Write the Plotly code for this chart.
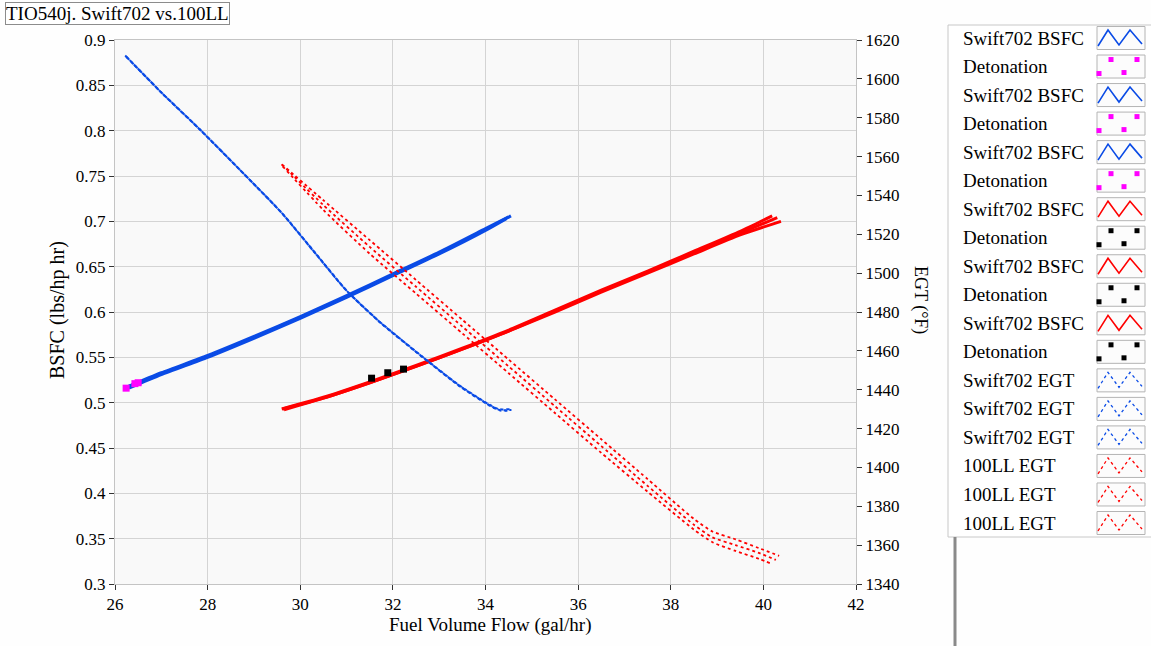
import plotly.graph_objects as go

# ---------------- data ----------------
# Swift702 BSFC (blue, left axis) - three overlapping runs
swift_bsfc_fuel_a = [26.20, 27.0, 28.0, 29.0, 30.0, 31.0, 32.0, 33.0, 34.0, 34.55]
swift_bsfc_a = [0.516, 0.532, 0.551, 0.572, 0.594, 0.617, 0.641, 0.665, 0.691, 0.706]
swift_bsfc_fuel_b = [26.25, 27.0, 28.0, 29.0, 30.0, 31.0, 32.0, 33.0, 34.0, 34.50]
swift_bsfc_b = [0.517, 0.533, 0.552, 0.573, 0.595, 0.618, 0.642, 0.666, 0.692, 0.705]
swift_bsfc_fuel_c = [26.30, 27.0, 28.0, 29.0, 30.0, 31.0, 32.0, 33.0, 34.0, 34.45]
swift_bsfc_c = [0.516, 0.531, 0.550, 0.571, 0.593, 0.616, 0.640, 0.664, 0.690, 0.703]

# 100LL BSFC (red, left axis) - three overlapping runs
ll_bsfc_fuel_a = [29.60, 30.5, 31.5, 32.5, 33.5, 34.5, 35.5, 36.5, 37.5, 38.5, 39.5, 40.19]
ll_bsfc_a = [0.493, 0.506, 0.523, 0.541, 0.560, 0.580, 0.602, 0.624, 0.645, 0.667, 0.689, 0.706]
ll_bsfc_fuel_b = [29.62, 30.5, 31.5, 32.5, 33.5, 34.5, 35.5, 36.5, 37.5, 38.5, 39.5, 40.30]
ll_bsfc_b = [0.493, 0.505, 0.522, 0.540, 0.559, 0.579, 0.601, 0.623, 0.644, 0.666, 0.687, 0.704]
ll_bsfc_fuel_c = [29.65, 30.5, 31.5, 32.5, 33.5, 34.5, 35.5, 36.5, 37.5, 38.5, 39.5, 40.38]
ll_bsfc_c = [0.492, 0.505, 0.522, 0.540, 0.559, 0.579, 0.600, 0.622, 0.643, 0.664, 0.685, 0.700]

# Detonation points
det_swift_fuel = [26.24, 26.43, 26.50]
det_swift_bsfc = [0.516, 0.521, 0.522]
det_ll_fuel = [31.54, 31.89, 32.23]
det_ll_bsfc = [0.527, 0.533, 0.537]

# Swift702 EGT (blue dotted, right axis)
swift_egt_fuel_a = [26.22, 27.0, 27.83, 28.91, 29.6, 30.3, 31.0, 31.71, 32.58, 33.44, 34.09, 34.30, 34.56]
swift_egt_a = [1612, 1593, 1574, 1548, 1531, 1511, 1491, 1475, 1458, 1442, 1432, 1429.6, 1429.6]
swift_egt_fuel_b = [26.24, 27.02, 27.85, 28.93, 29.62, 30.32, 31.02, 31.73, 32.60, 33.46, 34.11, 34.32, 34.54]
swift_egt_b = [1611.5, 1592.5, 1573.5, 1547.5, 1530.5, 1510.5, 1490.5, 1474.5, 1457.5, 1441.5, 1431.5, 1429.3, 1429.3]
swift_egt_fuel_c = [26.26, 26.98, 27.81, 28.89, 29.58, 30.28, 30.98, 31.69, 32.56, 33.42, 34.07, 34.28, 34.52]
swift_egt_c = [1611, 1593.5, 1574.5, 1548.5, 1531.5, 1511.5, 1491.5, 1475.5, 1458.5, 1442.5, 1432.5, 1430, 1430]

# 100LL EGT (red dotted, right axis)
ll_egt_fuel_a = [29.60, 30.5, 31.5, 32.5, 33.5, 34.5, 35.5, 36.5, 37.5, 38.5, 38.9, 39.4, 39.9, 40.34]
ll_egt_a = [1556, 1537.5, 1517, 1496.5, 1476, 1455.5, 1435, 1414.5, 1394, 1373.5, 1367, 1363, 1358.5, 1354.5]
ll_egt_fuel_b = [29.60, 30.5, 31.5, 32.5, 33.5, 34.5, 35.5, 36.5, 37.5, 38.5, 38.9, 39.4, 39.9, 40.27]
ll_egt_b = [1556, 1535, 1513.5, 1493, 1472.5, 1452, 1431.5, 1411, 1390.5, 1370.5, 1364, 1360, 1356, 1352.4]
ll_egt_fuel_c = [29.62, 30.5, 31.5, 32.5, 33.5, 34.5, 35.5, 36.5, 37.5, 38.5, 38.9, 39.4, 39.9, 40.19]
ll_egt_c = [1555, 1532.5, 1510, 1489.5, 1469, 1448.5, 1428, 1407.5, 1387.5, 1368, 1361.5, 1357, 1353, 1350.3]

x_ticks = [26, 28, 30, 32, 34, 36, 38, 40, 42]
bsfc_ticks = [0.3, 0.35, 0.4, 0.45, 0.5, 0.55, 0.6, 0.65, 0.7, 0.75, 0.8, 0.85, 0.9]
egt_ticks = list(range(1340, 1621, 20))

title_text = "TIO540j. Swift702 vs.100LL"
x_title = "Fuel Volume Flow (gal/hr)"
y_title = "BSFC (lbs/hp hr)"
y2_title = "EGT (°F)"

BLUE = "#0a4be6"
RED = "#ff0000"
MAGENTA = "#ff00ff"
BLACK = "#000000"

# series spec: (legend name, kind, color, x, y, axis)
series = [
    ("Swift702 BSFC", "line", BLUE, swift_bsfc_fuel_a, swift_bsfc_a, "y"),
    ("Detonation", "marker", MAGENTA, det_swift_fuel[0:1], det_swift_bsfc[0:1], "y"),
    ("Swift702 BSFC", "line", BLUE, swift_bsfc_fuel_b, swift_bsfc_b, "y"),
    ("Detonation", "marker", MAGENTA, det_swift_fuel[1:2], det_swift_bsfc[1:2], "y"),
    ("Swift702 BSFC", "line", BLUE, swift_bsfc_fuel_c, swift_bsfc_c, "y"),
    ("Detonation", "marker", MAGENTA, det_swift_fuel[2:3], det_swift_bsfc[2:3], "y"),
    ("Swift702 BSFC", "line", RED, ll_bsfc_fuel_a, ll_bsfc_a, "y"),
    ("Detonation", "marker", BLACK, det_ll_fuel[0:1], det_ll_bsfc[0:1], "y"),
    ("Swift702 BSFC", "line", RED, ll_bsfc_fuel_b, ll_bsfc_b, "y"),
    ("Detonation", "marker", BLACK, det_ll_fuel[1:2], det_ll_bsfc[1:2], "y"),
    ("Swift702 BSFC", "line", RED, ll_bsfc_fuel_c, ll_bsfc_c, "y"),
    ("Detonation", "marker", BLACK, det_ll_fuel[2:3], det_ll_bsfc[2:3], "y"),
    ("Swift702 EGT", "dot", BLUE, swift_egt_fuel_a, swift_egt_a, "y2"),
    ("Swift702 EGT", "dot", BLUE, swift_egt_fuel_b, swift_egt_b, "y2"),
    ("Swift702 EGT", "dot", BLUE, swift_egt_fuel_c, swift_egt_c, "y2"),
    ("100LL EGT", "dot", RED, ll_egt_fuel_a, ll_egt_a, "y2"),
    ("100LL EGT", "dot", RED, ll_egt_fuel_b, ll_egt_b, "y2"),
    ("100LL EGT", "dot", RED, ll_egt_fuel_c, ll_egt_c, "y2"),
]

# ---------------- layout geometry (pixels) ----------------
W, H = 1151, 646
PL, PR, PT, PB = 115, 856, 40, 584
LX0 = 940
SERIF = "Liberation Serif, Times New Roman, serif"

fig = go.Figure()

order = [i for i, s in enumerate(series) if s[1] == "dot"] + \
        [i for i, s in enumerate(series) if s[1] == "line"] + \
        [i for i, s in enumerate(series) if s[1] == "marker"]
for i in order:
    name, kind, color, xs, ys, ax = series[i]
    if kind == "line":
        fig.add_trace(go.Scatter(x=xs, y=ys, mode="lines", name=name, yaxis=ax, xaxis="x",
                                 line=dict(color=color, width=3, shape="spline", smoothing=0.6),
                                 showlegend=False, hoverinfo="skip"))
    elif kind == "dot":
        fig.add_trace(go.Scatter(x=xs, y=ys, mode="lines", name=name, yaxis=ax, xaxis="x",
                                 line=dict(color=color, width=2 if color == BLUE else 1.8, dash="dot",
                                           shape="spline", smoothing=0.6),
                                 showlegend=False, hoverinfo="skip"))
    else:
        fig.add_trace(go.Scatter(x=xs, y=ys, mode="markers", name=name, yaxis=ax, xaxis="x",
                                 marker=dict(color=color, size=7, symbol="square", line=dict(width=0)),
                                 showlegend=False, hoverinfo="skip"))

# ---------------- custom legend (text left, swatch right) ----------------
LEG_X0, LEG_Y0, LEG_Y1 = 948, 25, 537
ROW0, ROW_STEP = 38, 28.53
SW_X0, SW_X1 = 1097, 1142
shapes = []
annotations = []
# white backdrop for the legend column
shapes.append(dict(type="rect", xref="x3", yref="y3", x0=LX0 - 2, x1=W + 5, y0=-5, y1=H + 5,
                   line=dict(width=0), fillcolor="#fefefe", layer="below"))
shapes.append(dict(type="rect", xref="x3", yref="y3", x0=LEG_X0, x1=W + 5, y0=LEG_Y0, y1=LEG_Y1,
                   line=dict(color="#c8c8c8", width=1), fillcolor="#ffffff", layer="below"))
shapes.append(dict(type="line", xref="x3", yref="y3", x0=955, x1=955, y0=LEG_Y1, y1=H + 2,
                   line=dict(color="#8a8a8a", width=3), layer="below"))
for k, (name, kind, color, xs, ys, ax) in enumerate(series):
    c = ROW0 + k * ROW_STEP
    annotations.append(dict(xref="x3", yref="y3", x=961, y=c, text=name, showarrow=False,
                            xanchor="left", yanchor="middle",
                            font=dict(family=SERIF, size=19, color="#000000")))
    shapes.append(dict(type="rect", xref="x3", yref="y3", x0=SW_X0, x1=SW_X1 + 3, y0=c - 11.5, y1=c + 11.5,
                       line=dict(color="#b4b4b4", width=1), fillcolor="#fcfcfc", layer="below"))
    if kind in ("line", "dot"):
        zx = [SW_X0 + 1, SW_X0 + 11, SW_X0 + 22, SW_X0 + 33, SW_X1]
        zy = [c + 8, c - 8, c + 7, c - 8, c + 6]
        fig.add_trace(go.Scatter(x=zx, y=zy, xaxis="x3", yaxis="y3", mode="lines",
                                 line=dict(color=color, width=1.6 if kind == "line" else 1.3,
                                           dash="solid" if kind == "line" else "dot"),
                                 showlegend=False, hoverinfo="skip"))
    else:
        mx = [SW_X0 + 2, SW_X0 + 14, SW_X0 + 27, SW_X0 + 40]
        my = [c + 7, c - 7, c + 6, c - 7]
        fig.add_trace(go.Scatter(x=mx, y=my, xaxis="x3", yaxis="y3", mode="markers",
                                 marker=dict(color=color, size=5, symbol="square", line=dict(width=0)),
                                 showlegend=False, hoverinfo="skip"))

# ---------------- titles ----------------
annotations.append(dict(xref="paper", yref="paper", x=5 / W, y=1 - 2 / H, xanchor="left", yanchor="top",
                        text=title_text, showarrow=False, bgcolor="#ffffff", bordercolor="#8c8c8c",
                        borderwidth=1, borderpad=0,
                        font=dict(family=SERIF, size=19, color="#000000")))
annotations.append(dict(xref="paper", yref="paper", x=490 / W, y=1 - 625 / H, xanchor="center",
                        yanchor="middle", text=x_title, showarrow=False,
                        font=dict(family=SERIF, size=19, color="#000000")))
annotations.append(dict(xref="paper", yref="paper", x=57 / W, y=1 - 310 / H, xanchor="center",
                        yanchor="middle", text=y_title, showarrow=False, textangle=-90,
                        font=dict(family=SERIF, size=20, color="#000000")))
annotations.append(dict(xref="paper", yref="paper", x=921 / W, y=1 - 300 / H, xanchor="center",
                        yanchor="middle", text=y2_title, showarrow=False, textangle=90,
                        font=dict(family=SERIF, size=18, color="#000000")))

axis_common = dict(showgrid=True, gridcolor="#d4d4d4", gridwidth=1, zeroline=False,
                   ticks="outside", ticklen=5, tickcolor="#333333", tickwidth=1,
                   showline=True, linecolor="#c4c4c4", linewidth=1, automargin=False,
                   tickfont=dict(family=SERIF, size=17, color="#000000"))

fig.update_layout(
    width=W, height=H,
    margin=dict(l=0, r=0, t=0, b=0),
    paper_bgcolor="#fefefe",
    plot_bgcolor="#f9f9f9",
    showlegend=False,
    xaxis=dict(domain=[PL / W, PR / W], range=[26, 42], tickvals=x_ticks, anchor="y",
               mirror=True, **axis_common),
    yaxis=dict(domain=[1 - PB / H, 1 - PT / H], range=[0.3, 0.9], tickvals=bsfc_ticks,
               ticktext=[f"{v:g}" for v in bsfc_ticks], anchor="x", mirror=True, **axis_common),
    yaxis2=dict(overlaying="y", side="right", anchor="x", range=[1340, 1620], tickvals=egt_ticks,
                showgrid=False, zeroline=False, ticks="outside", ticklen=5, tickcolor="#333333",
                showline=False, automargin=False,
                tickfont=dict(family=SERIF, size=17, color="#000000")),
    xaxis3=dict(domain=[LX0 / W, 1], range=[LX0, W], visible=False, anchor="y3", fixedrange=True),
    yaxis3=dict(domain=[0, 1], range=[H, 0], visible=False, anchor="x3", fixedrange=True),
    shapes=shapes,
    annotations=annotations,
)

fig.write_html("out.html", config={"displayModeBar": False},
               post_script="document.body.style.margin='0';document.body.style.overflow='hidden';")
